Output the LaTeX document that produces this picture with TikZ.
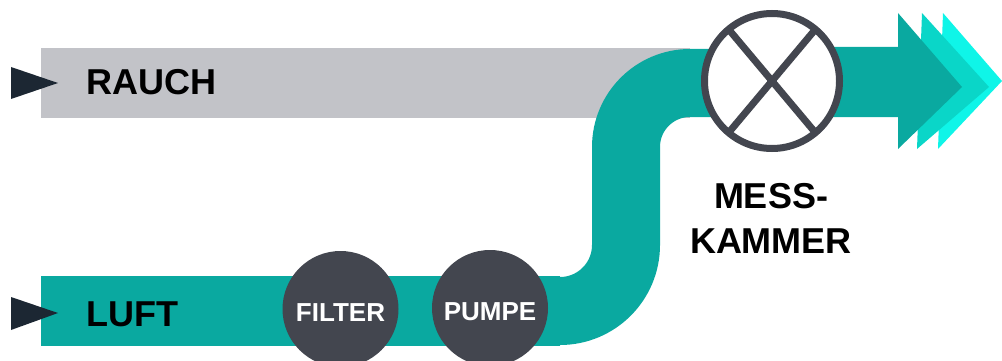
\documentclass[tikz,border=0pt]{standalone}
\usepackage{fontspec}
\setmainfont{Liberation Sans}
\usepackage{tikz}

\definecolor{rauchgrey}{HTML}{C2C3C8}
\definecolor{flowteal}{HTML}{0AA9A0}
\definecolor{flowmid}{HTML}{0AD6C8}
\definecolor{flowbright}{HTML}{0FF5E8}
\definecolor{partdark}{HTML}{43464F}
\definecolor{tipdark}{HTML}{1C2733}

\begin{document}
\begin{tikzpicture}[
  flowlabel/.style = {anchor=base west, inner sep=0pt, font=\fontsize{36}{45}\selectfont\bfseries},
  partnode/.style  = {circle, fill=partdark, text=white, minimum size=116pt, inner sep=0pt, outer sep=0pt,
                      text height=24pt, text depth=0pt, font=\fontsize{26}{30}\selectfont\bfseries},
  messnode/.style  = {circle, draw=partdark, fill=white, line width=7pt, minimum size=135pt, inner sep=0pt, outer sep=0pt},
  messcross/.style = {draw=partdark, line width=7pt},
  tealband/.style  = {draw=flowteal, line width=68pt},
  x=1pt, y=-1pt,
]

  \clip (0,0) rectangle (1002,361);

  % bands
  \fill[rauchgrey] (41,48) rectangle (690,118);
  \fill[flowteal] (41,276) rectangle (560,346);
  \coordinate (luftstart) at (41,311);
  \coordinate (bendlow) at (560,311);
  \coordinate (bendhigh) at (626,147);
  \coordinate (rohrend) at (772,83);
  \draw[tealband] (luftstart) -- (bendlow) arc[start angle=90, end angle=0, radius=66]
    -- (bendhigh) arc[start angle=180, end angle=270, radius=64] -- (rohrend);

  % outlet arrows
  \fill[flowbright] (943,13) -- (1002,81) -- (938,149) -- cycle;
  \fill[flowmid] (922,13) -- (989,87) -- (917,149) -- cycle;
  \fill[flowteal] (772,47) -- (898,47) -- (898,13) -- (962,87) -- (898,149) -- (898,117) -- (772,117) -- cycle;

  % inlet tips
  \fill[tipdark] (11,67) -- (58,83) -- (11,99) -- cycle;
  \fill[tipdark] (11,297) -- (58,313) -- (11,330) -- cycle;

  \node[flowlabel] (rauch) at (86.5,95) {RAUCH};
  \node[flowlabel] (luft) at (86.5,326) {LUFT};

  \node[partnode] (filter) at (340.5,309) {FILTER};
  \node[partnode] (pumpe) at (490,308) {PUMPE};

  \node[messnode] (mess) at (772,81) {};
  \draw[messcross] (mess.130) -- (mess.310);
  \draw[messcross] (mess.50) -- (mess.230);

  \node[align=center, inner sep=0pt, font=\fontsize{36}{45}\selectfont\bfseries] (messlabel) at (771,218) {MESS-\\KAMMER};

\end{tikzpicture}
\end{document}
